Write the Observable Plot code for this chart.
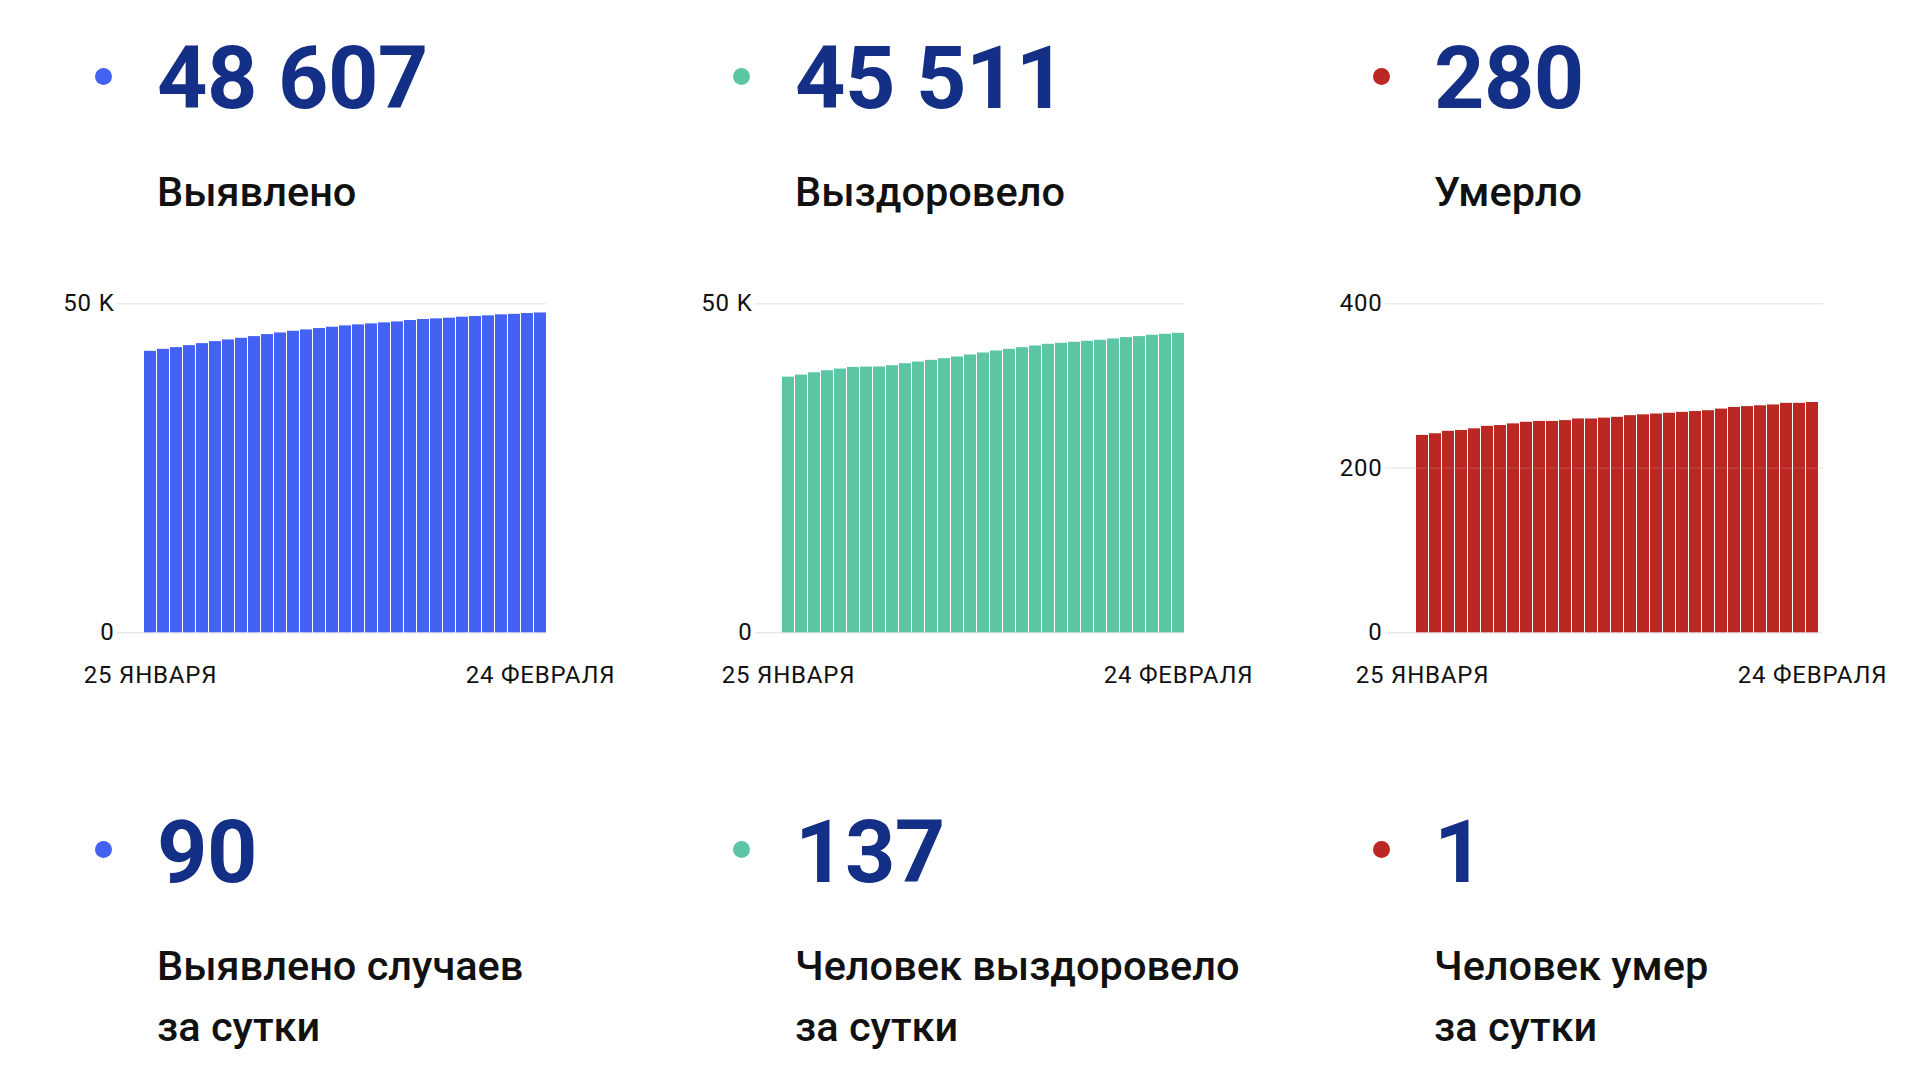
<!DOCTYPE html>
<html>
<head>
<meta charset="utf-8">
<script src="https://cdn.jsdelivr.net/npm/d3@7"></script>
<script src="https://cdn.jsdelivr.net/npm/@observablehq/plot@0.6"></script>
<style>
  html, body { margin: 0; padding: 0; background: #fff; }
  #root { position: relative; width: 1920px; height: 1080px; overflow: hidden; background: #fff; font-family: Roboto, "Noto Sans", sans-serif; }
  .dot { position: absolute; width: 17px; height: 17px; border-radius: 50%; }
  .num { position: absolute; font-weight: 700; font-size: 88px; line-height: 1; color: #132f86; white-space: nowrap; letter-spacing: -0.6px; }
  .lab { position: absolute; font-weight: 500; font-size: 41.5px; line-height: 61px; color: #111; white-space: nowrap; }
  .chart { position: absolute; }
  .chart svg { overflow: visible; max-width: none !important; }
  .chart svg text { letter-spacing: 0.8px; }
</style>
</head>
<body>
<div id="root"></div>
<script>
// ---- data ----
const dates = [
  "2021-01-25","2021-01-26","2021-01-27","2021-01-28","2021-01-29","2021-01-30","2021-01-31",
  "2021-02-01","2021-02-02","2021-02-03","2021-02-04","2021-02-05","2021-02-06","2021-02-07",
  "2021-02-08","2021-02-09","2021-02-10","2021-02-11","2021-02-12","2021-02-13","2021-02-14",
  "2021-02-15","2021-02-16","2021-02-17","2021-02-18","2021-02-19","2021-02-20","2021-02-21",
  "2021-02-22","2021-02-23","2021-02-24"
];
const cases = [42777, 43082, 43337, 43642, 43947, 44252, 44507, 44761, 45015, 45320, 45575,
  45829, 46033, 46236, 46440, 46643, 46796, 46948, 47101, 47253, 47457, 47609, 47711, 47813,
  47965, 48067, 48169, 48321, 48400, 48517, 48607];
const recovered = [38860, 39166, 39522, 39827, 40081, 40336, 40387, 40400, 40590, 40895, 41150,
  41404, 41658, 41913, 42218, 42523, 42828, 43082, 43337, 43591, 43846, 43998, 44150, 44303,
  44456, 44659, 44863, 45015, 45219, 45374, 45511];
const deaths = [240, 242, 245, 246, 248, 251, 252, 254, 256, 257, 257, 258, 260, 260, 261, 262,
  264, 265, 266, 267, 268, 269, 270, 272, 274, 275, 276, 277, 279, 279, 280];

const totals = ["48 607", "45 511", "280"];
const totalLabels = ["Выявлено", "Выздоровело", "Умерло"];
const daily = ["90", "137", "1"];
const dailyLabels = [["Выявлено случаев", "за сутки"], ["Человек выздоровело", "за сутки"], ["Человек умер", "за сутки"]];
const xTickLabels = ["25 ЯНВАРЯ", "24 ФЕВРАЛЯ"];
const yTicks = [[0, 50000], [0, 50000], [0, 200, 400]];
const yTickLabels = [["0", "50 K"], ["0", "50 K"], ["0", "200", "400"]];
const colors = ["#4361f2", "#5cc5a4", "#bb2723"];
const series = [cases, recovered, deaths];

// ---- layout ----
const colText = [157, 795, 1434];
const dotX = [103, 741, 1381];
const frames = [
  {frameL: 117, barsL: 142.7, barsR: 546},
  {frameL: 755, barsL: 781, barsR: 1184.3},
  {frameL: 1385, barsL: 1410, barsR: 1823}
];
const gridTop = 303.3, zeroY = 632.3;
const dotD = 17;

const root = document.getElementById("root");
function el(cls, css, text) {
  const d = document.createElement("div");
  d.className = cls;
  Object.assign(d.style, css);
  if (text != null) d.textContent = text;
  root.appendChild(d);
  return d;
}

for (let i = 0; i < 3; i++) {
  // top row
  el("dot", {left: (dotX[i] - dotD / 2) + "px", top: (76 - dotD / 2) + "px", background: colors[i]});
  el("num", {left: colText[i] + "px", top: (108 - 0.8418 * 88) + "px"}, totals[i]);
  el("lab", {left: colText[i] + "px", top: (206 - 45) + "px"}, totalLabels[i]);
  // bottom row
  el("dot", {left: (dotX[i] - dotD / 2) + "px", top: (849 - dotD / 2) + "px", background: colors[i]});
  el("num", {left: colText[i] + "px", top: (882 - 0.8418 * 88) + "px"}, daily[i]);
  const lb = el("lab", {left: colText[i] + "px", top: (980 - 45) + "px"});
  lb.innerHTML = dailyLabels[i].join("<br>");

  // chart
  const f = frames[i];
  const marginLeft = 80, marginRight = 90, marginTop = 20.3, marginBottom = 60;
  const svgLeft = f.frameL - marginLeft;
  const svgTop = gridTop - marginTop;
  const width = f.barsR + marginRight - svgLeft;
  const height = (zeroY - svgTop) + marginBottom;
  const data = dates.map((d, j) => ({date: d, value: series[i][j]}));
  const xLabelMap = new Map([[dates[0], xTickLabels[0]], [dates[dates.length - 1], xTickLabels[1]]]);
  const yLabelMap = new Map(yTicks[i].map((t, k) => [t, yTickLabels[i][k]]));
  const yMax = yTicks[i][yTicks[i].length - 1];

  const plot = Plot.plot({
    width, height, marginLeft, marginRight, marginTop, marginBottom,
    style: {fontFamily: "Roboto, sans-serif", fontSize: "24px", color: "#111", background: "transparent", overflow: "visible", maxWidth: "none"},
    x: {type: "band", domain: dates, paddingInner: 0.1, paddingOuter: 0, insetLeft: f.barsL - f.frameL,
        tickSize: 0, tickPadding: 33.5, tickFormat: d => xLabelMap.get(d) ?? "", label: null},
    y: {domain: [0, yMax], ticks: yTicks[i], tickFormat: d => yLabelMap.get(d) ?? "",
        tickSize: 0, tickPadding: 3, label: null},
    marks: [
      Plot.ruleY(yTicks[i], {stroke: "#e9e9e9", strokeWidth: 1.5}),
      Plot.barY(data, {x: "date", y: "value", fill: colors[i]}),
      Plot.ruleY(yTicks[i].slice(1), {stroke: "#ffffff", strokeOpacity: 0.12, strokeWidth: 1.5})
    ]
  });
  const wrap = el("chart", {left: svgLeft + "px", top: svgTop + "px", width: width + "px", height: height + "px"});
  wrap.appendChild(plot);
}
</script>
</body>
</html>
